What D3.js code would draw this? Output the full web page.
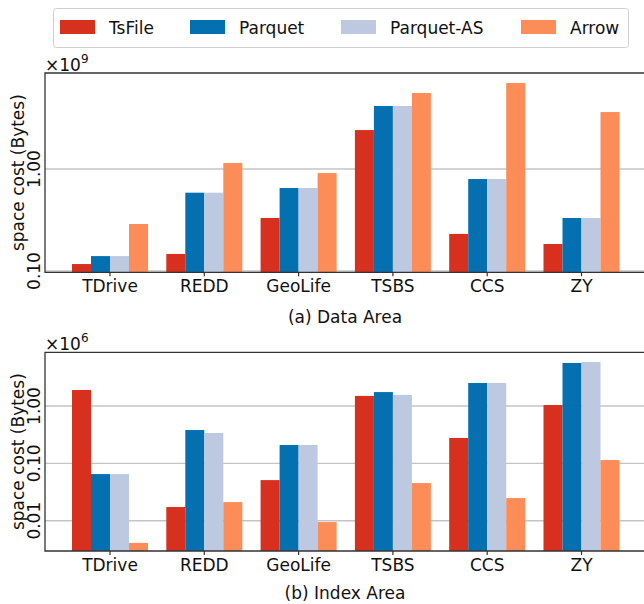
<!DOCTYPE html>
<html>
<head>
<meta charset="utf-8">
<script src="https://cdn.jsdelivr.net/npm/d3@7"></script>
<style>
  body { margin: 0; background: #fff; }
  svg { display: block; }
</style>
</head>
<body>
<div id="chart"></div>
<script>
const categories = ["TDrive", "REDD", "GeoLife", "TSBS", "CCS", "ZY"];
const seriesNames = ["TsFile", "Parquet", "Parquet-AS", "Arrow"];
const seriesColors = ["#d7301f", "#0570b0", "#bdc9e1", "#fc8d59"];

// (a) Data Area, x10^9 bytes
const dataTsFile    = [0.117, 0.147, 0.331, 2.41, 0.231, 0.184];
const dataParquet   = [0.140, 0.586, 0.651, 4.15, 0.798, 0.331];
const dataParquetAS = [0.140, 0.586, 0.651, 4.15, 0.798, 0.331];
const dataArrow     = [0.289, 1.145, 0.913, 5.56, 6.97, 3.62];

// (b) Index Area, x10^6 bytes
const indexTsFile    = [1.90, 0.0173, 0.051, 1.50, 0.277, 1.04];
const indexParquet   = [0.065, 0.381, 0.209, 1.75, 2.52, 5.63];
const indexParquetAS = [0.065, 0.338, 0.209, 1.56, 2.52, 5.86];
const indexArrow     = [0.0041, 0.0211, 0.00946, 0.0453, 0.0248, 0.114];

const dataTicks = [0.1, 1];
const indexTicks = [0.01, 0.1, 1];

const font = "'DejaVu Sans', sans-serif";
const width = 644, height = 604;

const svg = d3.select("#chart").append("svg")
  .attr("width", width)
  .attr("height", height)
  .style("font-family", font);

svg.append("rect").attr("width", width).attr("height", height).attr("fill", "#fff");

const color = d3.scaleOrdinal().domain(seriesNames).range(seriesColors);

const x0 = d3.scaleBand()
  .domain(categories)
  .range([72, 619.5])
  .paddingInner(0.194)
  .paddingOuter(0);

const x1 = d3.scaleBand()
  .domain(seriesNames)
  .range([0, x0.bandwidth()]);

const plotLeft = 45, plotRight = 647;

function panel(cfg) {
  const y = d3.scaleLog().domain(cfg.domain).range([cfg.bottom, cfg.top]);
  const g = svg.append("g");

  // gridlines
  g.selectAll("line.grid")
    .data(cfg.ticks)
    .join("line")
    .attr("class", "grid")
    .attr("x1", plotLeft).attr("x2", plotRight)
    .attr("y1", d => y(d)).attr("y2", d => y(d))
    .attr("stroke", "#c4c4c4")
    .attr("stroke-width", 1.4);

  const rows = categories.map((c, i) => ({
    cat: c,
    values: seriesNames.map((s, j) => ({ s, v: cfg.series[j][i] }))
  }));

  const groups = g.selectAll("g.grp")
    .data(rows)
    .join("g")
    .attr("class", "grp")
    .attr("transform", d => `translate(${x0(d.cat)},0)`);

  groups.selectAll("rect")
    .data(d => d.values)
    .join("rect")
    .attr("x", d => x1(d.s))
    .attr("width", x1.bandwidth())
    .attr("y", d => y(d.v))
    .attr("height", d => cfg.bottom - y(d.v))
    .attr("fill", d => color(d.s));

  // spines
  g.append("path")
    .attr("d", `M${plotRight},${cfg.top}H${plotLeft}V${cfg.bottom}H${plotRight}`)
    .attr("fill", "none")
    .attr("stroke", "#333")
    .attr("stroke-width", 1.3);

  // x axis
  const xa = g.append("g")
    .attr("transform", `translate(0,${cfg.bottom})`)
    .call(d3.axisBottom(x0).tickSize(4).tickPadding(4));
  xa.select(".domain").remove();
  xa.selectAll(".tick line").attr("stroke", "#333").attr("stroke-width", 1.2);
  xa.selectAll(".tick text")
    .attr("y", 20).attr("dy", null)
    .style("font-size", "17px")
    .style("font-family", font)
    .attr("fill", "#111");

  // y tick labels (rotated)
  g.selectAll("text.ytick")
    .data(cfg.ticks)
    .join("text")
    .attr("class", "ytick")
    .attr("transform", d => `translate(40,${y(d)}) rotate(-90)`)
    .attr("text-anchor", "middle")
    .style("font-size", "17px")
    .attr("fill", "#111")
    .text(d => d3.format(".2f")(d));

  // y label
  g.append("text")
    .attr("transform", `translate(24,${(cfg.top + cfg.bottom) / 2}) rotate(-90)`)
    .attr("text-anchor", "middle")
    .style("font-size", "17px")
    .attr("fill", "#111")
    .text("space cost (Bytes)");

  // offset text
  const off = g.append("text")
    .attr("x", plotLeft)
    .attr("y", cfg.top - 2)
    .style("font-size", "17px")
    .attr("fill", "#111");
  off.append("tspan").text("×10");
  off.append("tspan").attr("dy", -8).style("font-size", "12px").text(cfg.exp);

  // caption
  g.append("text")
    .attr("x", 345)
    .attr("y", cfg.caption)
    .attr("text-anchor", "middle")
    .style("font-size", "17px")
    .attr("fill", "#111")
    .text(cfg.title);
}

panel({
  series: [dataTsFile, dataParquet, dataParquetAS, dataArrow],
  domain: [0.0971, 8.74],
  top: 73, bottom: 272.3,
  ticks: dataTicks,
  exp: "9",
  caption: 323,
  title: "(a) Data Area"
});

panel({
  series: [indexTsFile, indexParquet, indexParquetAS, indexArrow],
  domain: [0.00296, 8.64],
  top: 352.3, bottom: 551,
  ticks: indexTicks,
  exp: "6",
  caption: 599,
  title: "(b) Index Area"
});

// legend
const legend = svg.append("g");
legend.append("rect")
  .attr("x", 53.5).attr("y", 8.5)
  .attr("width", 575).attr("height", 39)
  .attr("rx", 3)
  .attr("fill", "#fff")
  .attr("stroke", "#d0d0d0");

const legendX = [60, 190, 341, 521];
const items = legend.selectAll("g.item")
  .data(seriesNames)
  .join("g")
  .attr("class", "item")
  .attr("transform", (d, i) => `translate(${legendX[i]},0)`);

items.append("rect")
  .attr("y", 20).attr("width", 35).attr("height", 14)
  .attr("fill", d => color(d));

items.append("text")
  .attr("x", 49).attr("y", 34)
  .style("font-size", "17px")
  .attr("fill", "#111")
  .text(d => d);
</script>
</body>
</html>
